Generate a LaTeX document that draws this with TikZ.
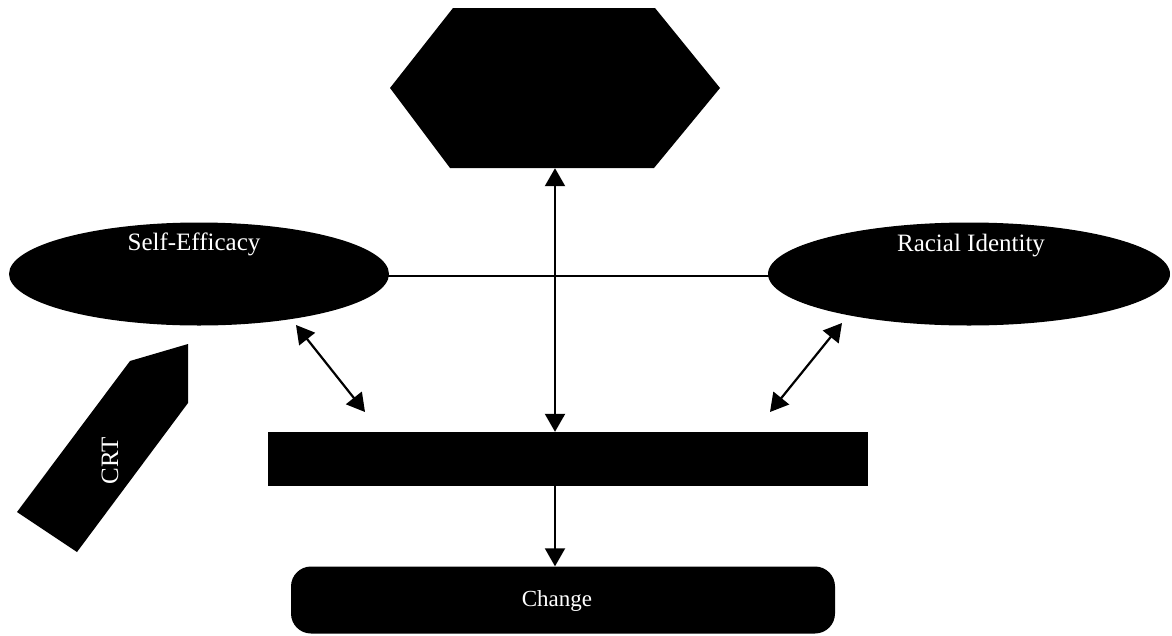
\documentclass[tikz,border=0pt]{standalone}
\usepackage{fontspec}
\setmainfont{Liberation Serif}
\usetikzlibrary{arrows.meta,shapes.geometric}
\begin{document}
\begin{tikzpicture}[x=1pt,y=-1pt,
  lbl/.style={text=white,font=\fontsize{25}{30}\selectfont},
  oval/.style={ellipse,fill=black,minimum width=380,minimum height=103,inner sep=0},
  dbl/.style={line width=2.2pt,{Triangle[length=18pt,width=20pt]}-{Triangle[length=18pt,width=20pt]}},
  sgl/.style={line width=2pt,-{Triangle[length=18pt,width=20pt]}}
]
\useasboundingbox (0,0) rectangle (1172,635);
% hexagon
\fill[black] (390,88) -- (453,8) -- (655,8) -- (720,88) -- (654,168) -- (450,168) -- cycle;
\node (hex) [minimum width=330,minimum height=160,inner sep=0] at (555,88) {};
% ellipses
\node (se) [oval] at (199,274) {};
\node[lbl] at (194,244) {Self-Efficacy};
\node (ri) [oval,minimum width=402] at (969,274) {};
\node[lbl] at (971,246) {Racial Identity};
% rectangle
\node (rect) [fill=black,minimum width=600,minimum height=54,inner sep=0] at (568,459) {};
% change
\node (chg) [fill=black,rounded corners=20pt,minimum width=544,minimum height=67,inner sep=0] at (563,600) {};
\node[lbl,font=\fontsize{23}{28}\selectfont] at (557,601) {Change};
% CRT
\fill[black] (17,512) -- (130,361) -- (188,344) -- (188,403) -- (77,552) -- cycle;
\node[lbl,rotate=90] (crt) at (110,461) {CRT};
% connectors
\draw[line width=1.5pt] (388,276) -- (769,276);
\draw[dbl] (hex.south) -- (hex.south |- rect.north);
\draw[sgl] (hex.south |- rect.south) -- (hex.south |- chg.north);
\coordinate (a1) at (296,325);
\coordinate (a2) at (365,412);
\coordinate (b1) at (842,323);
\coordinate (b2) at (770,412);
\draw[dbl] (a1) -- (a2);
\draw[dbl] (b1) -- (b2);
\end{tikzpicture}
\end{document}
